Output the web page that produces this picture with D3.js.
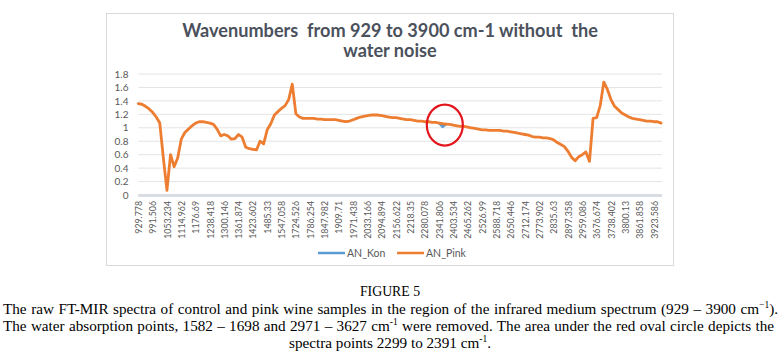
<!DOCTYPE html>
<html><head><meta charset="utf-8">
<script src="https://cdn.jsdelivr.net/npm/d3@7"></script>
<style>
html,body{margin:0;padding:0;background:#fff;}
svg{display:block;}
</style></head><body>
<svg id="chart" width="781" height="360"></svg>
<script>
// ---- data ----
const xLabels = ["929.778","991.506","1053.234","1114.962","1176.69","1238.418","1300.146","1361.874","1423.602","1485.33","1547.058","1724.526","1786.254","1847.982","1909.71","1971.438","2033.166","2094.894","2156.622","2218.35","2280.078","2341.806","2403.534","2465.262","2526.99","2588.718","2650.446","2712.174","2773.902","2835.63","2897.358","2959.086","3676.674","3738.402","3800.13","3861.858","3923.586"];
// one sample every 8 spectral points (4 samples per labelled category step)
const pinkValues = [
1.36,1.35,1.32,1.28,1.23,1.16,1.07,0.55,0.07,0.60,
0.42,0.55,0.83,0.93,0.98,1.03,1.07,1.09,1.09,1.08,
1.07,1.05,0.98,0.88,0.90,0.88,0.83,0.84,0.90,0.86,
0.71,0.69,0.68,0.67,0.80,0.76,0.97,1.06,1.19,1.24,
1.29,1.33,1.42,1.65,1.21,1.16,1.14,1.14,1.14,1.14,
1.13,1.13,1.12,1.12,1.12,1.12,1.11,1.10,1.09,1.10,
1.12,1.14,1.16,1.17,1.18,1.19,1.19,1.19,1.18,1.17,
1.16,1.15,1.15,1.14,1.13,1.12,1.12,1.11,1.10,1.10,
1.09,1.09,1.08,1.08,1.07,1.06,1.055,1.05,1.04,1.03,
1.02,1.02,1.01,1.00,0.99,0.98,0.97,0.97,0.96,0.96,
0.96,0.96,0.95,0.95,0.94,0.93,0.92,0.91,0.90,0.89,
0.87,0.86,0.86,0.85,0.85,0.84,0.82,0.78,0.75,0.72,
0.65,0.56,0.51,0.57,0.60,0.64,0.50,1.14,1.15,1.33,
1.68,1.57,1.42,1.32,1.27,1.22,1.19,1.16,1.14,1.13,
1.12,1.11,1.10,1.10,1.09,1.09,1.07];
const konStart = 84;
const konValues = [1.07, 1.015, 1.055];
const yTicks = [0,0.2,0.4,0.6,0.8,1,1.2,1.4,1.6,1.8];
const seriesNames = ["AN_Kon","AN_Pink"];
const seriesColors = ["#5b9bd5","#ed7d31"];
const titleLines = ["Wavenumbers  from 929 to 3900 cm-1 without  the","water noise"];
const figureLabel = "FIGURE 5";
const captionLines = [
  [{t:"The raw FT-MIR spectra of control and pink wine samples in the region of the infrared medium spectrum (929 – 3900 cm"},{t:"−1",sup:true},{t:")."}],
  [{t:"The water absorption points, 1582 – 1698 and 2971 – 3627 cm"},{t:"-1",sup:true},{t:" were removed. The area under the red oval circle depicts the"}],
  [{t:"spectra points 2299 to 2391 cm"},{t:"-1",sup:true},{t:"."}]
];

// ---- drawing ----
const svg = d3.select("#chart");
const fontUI = "Lato, 'Open Sans', sans-serif";
const txtCol = "#595959";

svg.append("rect").attr("x",106.5).attr("y",13.5).attr("width",567).attr("height",252)
  .attr("fill","#fff").attr("stroke","#d9d9d9");

const x = d3.scaleLinear().domain([0,146.25]).range([138.3,662]);
const y = d3.scaleLinear().domain([0,1.8]).range([195,74]);

// title
const title = svg.append("g").selectAll("text").data(titleLines).join("text")
  .attr("x",390).attr("y",(d,i)=>36.7+i*20)
  .attr("text-anchor","middle")
  .style("white-space","pre")
  .attr("font-family",fontUI).attr("font-weight","bold").attr("font-size",16)
  .attr("fill","#4b515c").text(d=>d);
{
  const w = title.nodes()[0].getComputedTextLength();
  const fs = Math.min(18.5, 16*416/w);
  title.attr("font-size",fs);
}

// gridlines
svg.append("g").selectAll("line").data(yTicks.filter(d=>d>0)).join("line")
  .attr("x1",x.range()[0]).attr("x2",x.range()[1])
  .attr("y1",d=>y(d)).attr("y2",d=>y(d))
  .attr("stroke","#e4e4e4").attr("stroke-width",1);
svg.append("line").attr("x1",x.range()[0]).attr("x2",x.range()[1])
  .attr("y1",y(0)+0.5).attr("y2",y(0)+0.5).attr("stroke","#d9dce2").attr("stroke-width",3);

// y axis
const yAxis = svg.append("g").attr("transform","translate(128.5,0)")
  .call(d3.axisLeft(y).tickValues(yTicks).tickSize(0).tickPadding(0).tickFormat(d=>String(+d.toFixed(1))));
yAxis.select(".domain").remove();
yAxis.selectAll("text").attr("font-family",fontUI).attr("font-size",10).attr("fill",txtCol);

// x axis
const xAxis = svg.append("g").attr("transform",`translate(0,${y(0)})`)
  .call(d3.axisBottom(x).tickValues(xLabels.map((d,i)=>i*4)).tickSize(0).tickFormat((d,i)=>xLabels[i]));
xAxis.select(".domain").remove();
xAxis.selectAll("text")
  .attr("transform","rotate(-90)").attr("x",-6).attr("y",0).attr("dy","0.35em")
  .attr("text-anchor","end")
  .attr("font-family",fontUI).attr("font-size",8.8).attr("fill",txtCol);

// series
const line = d3.line().x(d=>x(d.i)).y(d=>y(d.v));
svg.append("path").datum(konValues.map((v,j)=>({i:konStart+j,v})))
  .attr("d",line).attr("fill","none").attr("stroke",seriesColors[0]).attr("stroke-width",2.5)
  .attr("stroke-linejoin","round");
svg.append("path").datum(pinkValues.map((v,i)=>({i,v})))
  .attr("d",line).attr("fill","none").attr("stroke",seriesColors[1]).attr("stroke-width",2.8)
  .attr("stroke-linejoin","round").attr("stroke-linecap","round");

// red oval annotation
svg.append("ellipse").attr("cx",x(85.6)).attr("cy",y(1.04)).attr("rx",18).attr("ry",20.5)
  .attr("fill","none").attr("stroke","#e3161d").attr("stroke-width",2.2);

// legend
const legendPos = [318,397];
const lg = svg.append("g").selectAll("g").data(seriesNames).join("g")
  .attr("transform",(d,i)=>`translate(${legendPos[i]},253)`);
lg.append("line").attr("x1",0).attr("x2",27).attr("stroke",(d,i)=>seriesColors[i]).attr("stroke-width",2.5);
lg.append("text").attr("x",29).attr("dy","0.35em").attr("font-family",fontUI).attr("font-size",10.5)
  .attr("fill",txtCol).text(d=>d);

// caption
const serif = "'Liberation Serif','Times New Roman',serif";
svg.append("text").attr("x",390).attr("y",296).attr("text-anchor","middle")
  .attr("font-family",serif).attr("font-size",13.8).attr("fill","#000").text(figureLabel);
const capY = [313.5,330.5,347.5];
const capMode = ["justify","justify","center"];
const capTarget = [775,771,0];
captionLines.forEach((segs,li)=>{
  const t = svg.append("text").attr("y",capY[li]).attr("font-family",serif).attr("font-size",15.2).attr("fill","#000");
  segs.forEach((s,si)=>{
    const ts = t.append("tspan").text(s.t);
    if (s.sup) ts.attr("font-size",9.5).attr("dy",-5.5);
    else if (si>0 && segs[si-1].sup) ts.attr("dy",5.5);
  });
  if (capMode[li]==="justify") {
    t.attr("x",3);
    const w = t.node().getComputedTextLength();
    const n = segs.map(s=>s.t).join("").split(" ").length-1;
    t.style("word-spacing",((capTarget[li]-w)/n)+"px");
  } else {
    t.attr("x",390).attr("text-anchor","middle");
  }
});
</script>
</body></html>
